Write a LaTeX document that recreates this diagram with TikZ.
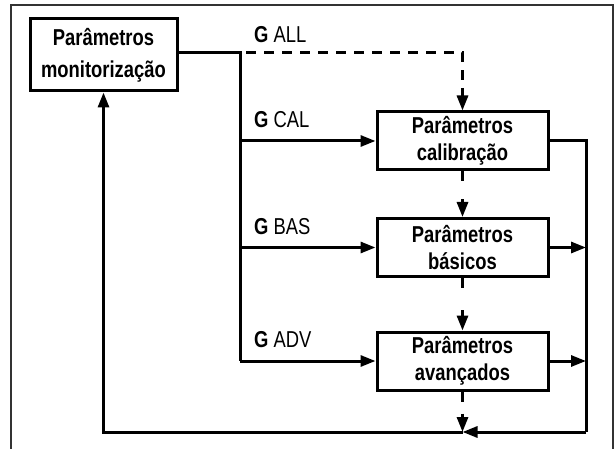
\documentclass[tikz,border=0pt]{standalone}
\usepackage{fontspec}
\setmainfont[FakeStretch=0.8]{Liberation Sans}
\usetikzlibrary{arrows.meta}
\begin{document}
\begin{tikzpicture}[x=1pt,y=-1pt,
  conn/.style={line width=3pt},
  arr/.style={conn,-{Triangle[length=15pt,width=11pt]}},
  pbox/.style={draw,line width=3pt,minimum width=171pt,minimum height=58pt,
    align=center,font=\fontsize{23}{27}\selectfont\bfseries,inner sep=0pt},
  glabel/.style={anchor=west,font=\fontsize{23}{27}\selectfont,inner sep=0pt}]
\useasboundingbox (0,0) rectangle (616,449);
\draw[line width=1.4pt,draw=black!80] (11,449) -- (11,5) -- (613,5) -- (613,449);
% nodes
\node[pbox,minimum width=147pt,minimum height=72pt,font=\fontsize{23}{32}\selectfont\bfseries] (mon) at (103.5,55) {Parâmetros\\monitorização};
\node[pbox] (cal) at (462.5,141) {Parâmetros\\calibração};
\node[pbox] (bas) at (462.5,247.5) {Parâmetros\\básicos};
\node[pbox] (adv) at (462.5,361) {Parâmetros\\avançados};
\coordinate (t0) at (240,53);
\coordinate (tA) at (462.5,53);
\coordinate (tCAL) at (240,141);
\coordinate (tBAS) at (240,247.5);
\coordinate (tADV) at (240,361);
\coordinate (r1) at (586,141);
\coordinate (r2) at (586,247.5);
\coordinate (r3) at (586,361);
\coordinate (rb) at (586,432);
\coordinate (mb) at (462.5,432);
\coordinate (lb) at (103.5,432);
% labels
\node[glabel] (lALL) at (254,35) {\textbf{G} ALL};
\node[glabel] (lCAL) at (254,120) {\textbf{G} CAL};
\node[glabel] (lBAS) at (254,227) {\textbf{G} BAS};
\node[glabel] (lADV) at (254,340) {\textbf{G} ADV};
% trunk
\draw[conn] (mon.east |- t0) -- (t0) -- (tADV);
\draw[arr] (tCAL) -- (cal.west);
\draw[arr] (tBAS) -- (bas.west);
\draw[arr] (tADV) -- (adv.west);
% dashed
\draw[conn,dash pattern=on 10pt off 8pt,dash phase=-6pt] (t0) -- (tA) -- ++(0,34);
\draw[arr] (462.5,88) -- (cal.north);
\draw[arr,dash pattern=on 10pt off 18pt on 40pt] (cal.south) -- (bas.north);
\draw[arr,dash pattern=on 10pt off 22pt on 40pt] (bas.south) -- (adv.north);
\draw[arr,dash pattern=on 10pt off 12pt on 40pt] (adv.south) -- (mb);
% right collector
\draw[conn] (cal.east) -- (r1) -- (rb);
\draw[arr] (bas.east) -- (r2);
\draw[arr] (adv.east) -- (r3);
\draw[arr] (rb) -- (mb);
\draw[arr] (mb) -- (lb) -- (mon.south);
\end{tikzpicture}
\end{document}
